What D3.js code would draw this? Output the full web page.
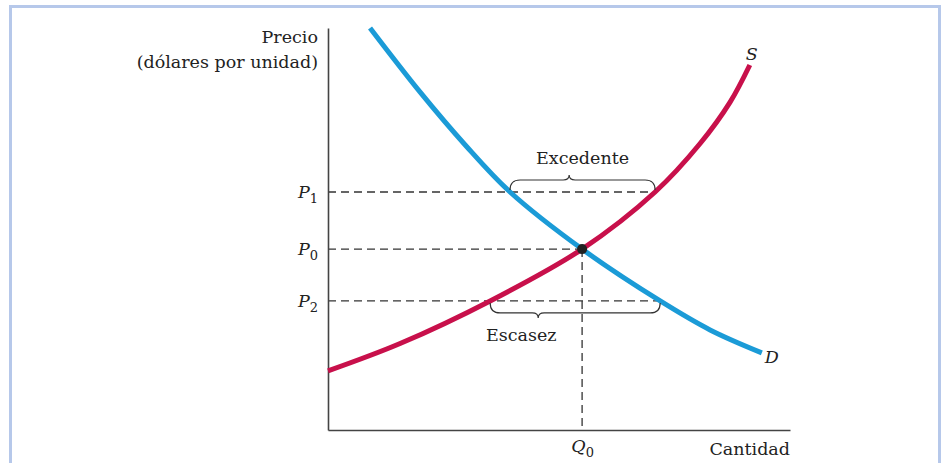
<!DOCTYPE html>
<html><head><meta charset="utf-8">
<script src="https://cdn.jsdelivr.net/npm/d3@7/dist/d3.min.js"></script>
<style>
html,body{margin:0;padding:0;background:#fff;}
svg{display:block;}
text{font-family:"DejaVu Serif",serif;fill:#222;}
</style></head>
<body>
<svg id="chart" width="948" height="463"></svg>
<script>
// ---- data (quantity 0..10, price 0..10) ----
const demandQ = [0.91, 1.99, 2.97, 3.94, 5.50, 7.19, 8.27, 9.39];
const demandP = [10.0, 8.41, 7.09, 5.92, 4.50, 3.21, 2.49, 1.92];
const supplyQ = [0.00, 1.56, 3.51, 5.50, 7.08, 8.05, 8.70, 9.13];
const supplyP = [1.47, 2.15, 3.21, 4.50, 5.92, 7.12, 8.15, 9.08];
const priceLevels = [5.92, 4.50, 3.21];
const priceLabels = ["1", "0", "2"];   // subscripts of P
const equilibriumQ = 5.50;
const equilibriumP = 4.50;
const qLabel = "0";                    // subscript of Q
const surplusRange = [3.94, 7.08];     // at P1
const surplusTip = 5.22;
const shortageRange = [3.51, 7.19];    // at P2
const shortageTip = 4.55;

const svg = d3.select("#chart");
const x = d3.scaleLinear().domain([0, 10]).range([328, 790]);
const y = d3.scaleLinear().domain([0, 10]).range([430, 28]);
const FS = "17.5px", SUB = "13px";

// frame border
svg.append("path")
  .attr("d", "M10.5,463 V6.5 H939.5 V463")
  .attr("fill", "none").attr("stroke", "#b6c8ea").attr("stroke-width", 3);

// dashed guides
const dashCol = "#333";
const guides = [
  {p: priceLevels[0], q: surplusRange[1]},
  {p: priceLevels[1], q: equilibriumQ},
  {p: priceLevels[2], q: shortageRange[1]}
];
svg.selectAll("line.guide").data(guides).join("line")
  .attr("class", "guide")
  .attr("x1", x(0)).attr("x2", d => x(d.q))
  .attr("y1", d => y(d.p)).attr("y2", d => y(d.p))
  .attr("stroke", dashCol).attr("stroke-width", 1.3).attr("stroke-dasharray", "8,5");
svg.append("line")
  .attr("x1", x(equilibriumQ)).attr("x2", x(equilibriumQ))
  .attr("y1", y(equilibriumP)).attr("y2", y(0))
  .attr("stroke", dashCol).attr("stroke-width", 1.3).attr("stroke-dasharray", "8,5");

// axes
const yAxis = svg.append("g").attr("transform", `translate(${x(0)},0)`)
  .call(d3.axisLeft(y).tickValues(priceLevels).tickSize(0).tickPadding(10).tickFormat(""));
const xAxis = svg.append("g").attr("transform", `translate(0,${y(0)})`)
  .call(d3.axisBottom(x).tickValues([equilibriumQ]).tickSize(0).tickPadding(14).tickFormat(""));
[yAxis, xAxis].forEach(a => {
  a.attr("font-family", null);
  a.select(".domain").attr("stroke", "#444").attr("stroke-width", 1.6);
});

yAxis.selectAll(".tick text").each(function(d, i) {
  const t = d3.select(this).attr("font-size", null).attr("fill", null)
    .attr("dy", "0.3em").attr("x", -10).style("font-size", FS);
  t.append("tspan").attr("font-style", "italic").text("P");
  t.append("tspan").attr("dy", 5).style("font-size", SUB).text(priceLabels[i]);
});
xAxis.selectAll(".tick text").each(function() {
  const t = d3.select(this).attr("font-size", null).attr("fill", null)
    .attr("y", 22).attr("dy", 0).style("font-size", FS).attr("text-anchor", "middle");
  t.append("tspan").attr("font-style", "italic").text("Q");
  t.append("tspan").attr("dy", 5).style("font-size", SUB).text(qLabel);
});

// axis titles
svg.append("text").attr("x", 318).attr("y", 43).attr("text-anchor", "end")
  .style("font-size", FS).text("Precio");
svg.append("text").attr("x", 318).attr("y", 68).attr("text-anchor", "end")
  .style("font-size", FS).text("(dólares por unidad)");
svg.append("text").attr("x", x(10)).attr("y", 455).attr("text-anchor", "end")
  .style("font-size", FS).text("Cantidad");

// curves
const line = d3.line().x(d => x(d[0])).y(d => y(d[1])).curve(d3.curveCatmullRom.alpha(0.5));
const demand = demandQ.map((q, i) => [q, demandP[i]]);
const supply = supplyQ.map((q, i) => [q, supplyP[i]]);
svg.append("path").attr("d", line(supply)).attr("fill", "none")
  .attr("stroke", "#c8104b").attr("stroke-width", 5);
svg.append("path").attr("d", line(demand)).attr("fill", "none")
  .attr("stroke", "#1b9bd7").attr("stroke-width", 5);

// curve labels
const sEnd = supply[supply.length - 1];
svg.append("text").attr("x", x(sEnd[0]) + 2).attr("y", y(sEnd[1]) - 5)
  .attr("text-anchor", "middle").attr("font-style", "italic").style("font-size", FS).text("S");
const dEnd = demand[demand.length - 1];
svg.append("text").attr("x", x(dEnd[0]) + 3).attr("y", y(dEnd[1]) + 10)
  .attr("font-style", "italic").style("font-size", FS).text("D");

// equilibrium point
svg.append("circle").attr("cx", x(equilibriumQ)).attr("cy", y(equilibriumP))
  .attr("r", 5).attr("fill", "#222");

// braces
function brace(x1, x2, tip, yBase, dir) {
  const yEnd = yBase + dir * 2, yFlat = yBase + dir * 12, yTip = yBase + dir * 17;
  const r = 10, r2 = 6;
  return `M${x1},${yEnd} Q${x1},${yFlat} ${x1 + r},${yFlat} L${tip - r2},${yFlat} ` +
         `Q${tip},${yFlat} ${tip},${yTip} Q${tip},${yFlat} ${tip + r2},${yFlat} ` +
         `L${x2 - r},${yFlat} Q${x2},${yFlat} ${x2},${yEnd}`;
}
svg.append("path")
  .attr("d", brace(x(surplusRange[0]), x(surplusRange[1]), x(surplusTip), y(priceLevels[0]), -1))
  .attr("fill", "none").attr("stroke", "#333").attr("stroke-width", 1.2);
svg.append("path")
  .attr("d", brace(x(shortageRange[0]), x(shortageRange[1]), x(shortageTip), y(priceLevels[2]), 1))
  .attr("fill", "none").attr("stroke", "#333").attr("stroke-width", 1.2);
svg.append("text").attr("x", (x(surplusRange[0]) + x(surplusRange[1])) / 2).attr("y", 164)
  .attr("text-anchor", "middle").style("font-size", FS).text("Excedente");
svg.append("text").attr("x", x(shortageTip) - 17).attr("y", 341)
  .attr("text-anchor", "middle").style("font-size", FS).text("Escasez");
</script>
</body></html>
